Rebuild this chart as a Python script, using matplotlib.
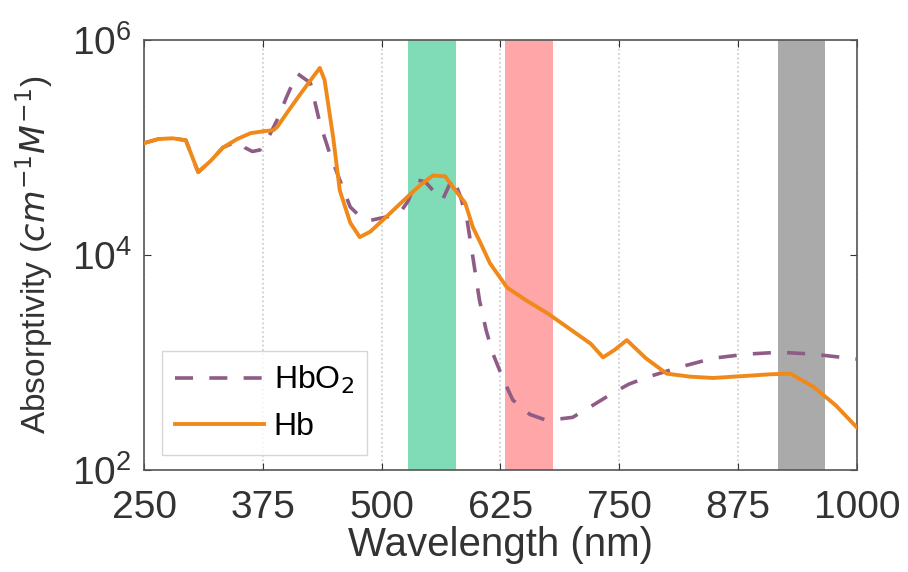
import matplotlib.pyplot as plt

# wavelength (nm) and molar absorptivity (cm^-1 M^-1)
wl_hb = [250, 265, 280, 294, 307, 320, 333, 348, 362, 376, 386, 390, 402, 414, 425,
         435, 440, 449, 456, 467, 477, 488, 498, 512, 527, 541, 554, 567, 575, 588,
         596, 604, 614, 632, 652, 674, 700, 720, 733, 745, 758, 778, 800, 825, 849,
         880, 910, 930, 954, 978, 1000]
hb = [1.1e5, 1.2e5, 1.22e5, 1.17e5, 5.9e4, 7.5e4, 1.0e5, 1.2e5, 1.36e5, 1.42e5, 1.45e5,
      1.55e5, 2.2e5, 3.1e5, 4.2e5, 5.5e5, 4.25e5, 1.25e5, 4.0e4, 2.0e4, 1.47e4, 1.65e4,
      1.99e4, 2.6e4, 3.47e4, 4.5e4, 5.5e4, 5.4e4, 4.3e4, 3.05e4, 1.82e4, 1.3e4, 8.4e3,
      5.0e3, 3.8e3, 2.9e3, 2.0e3, 1.5e3, 1.12e3, 1.31e3, 1.62e3, 1.1e3, 7.9e2, 7.4e2,
      7.2e2, 7.5e2, 7.8e2, 7.9e2, 6.0e2, 4.0e2, 2.5e2]

wl_hbo2 = [250, 265, 280, 294, 307, 320, 333, 348, 356, 364, 372, 380, 390, 400, 411,
           425, 435, 446, 456, 467, 477, 488, 498, 509, 519, 528, 537, 546, 554, 564,
           575, 583, 590, 596, 603, 610, 617, 628, 638, 656, 674, 701, 722, 743, 760,
           779, 814, 849, 884, 919, 954, 1000]
hbo2 = [1.1e5, 1.2e5, 1.22e5, 1.17e5, 5.9e4, 7.5e4, 1.0e5, 1.15e5, 1.0e5, 9.2e4, 9.5e4,
        1.2e5, 1.8e5, 2.95e5, 4.9e5, 4.0e5, 1.7e5, 8.5e4, 5.0e4, 2.8e4, 2.3e4, 2.1e4,
        2.2e4, 2.3e4, 2.45e4, 3.2e4, 5.0e4, 4.8e4, 4.0e4, 3.25e4, 5.3e4, 3.5e4, 2.1e4,
        9.6e3, 3.8e3, 2.0e3, 1.22e3, 7.0e2, 4.5e2, 3.3e2, 2.9e2, 3.1e2, 4.0e2, 5.2e2,
        6.3e2, 7.3e2, 9.1e2, 1.1e3, 1.2e3, 1.25e3, 1.2e3, 1.08e3]

bands = [(528, 578, '#7fdcb6'), (630, 680, '#ffa6a8'), (917, 967, '#aaaaaa')]
xticks = [250, 375, 500, 625, 750, 875, 1000]

plt.rcParams['font.family'] = ['Liberation Sans', 'DejaVu Sans']
plt.rcParams['mathtext.fontset'] = 'dejavusans'

fig = plt.figure(figsize=(9.08, 5.72), dpi=100)
ax = fig.add_axes([0.1586, 0.178, 0.785, 0.752])

for lo, hi, c in bands:
    ax.axvspan(lo, hi, color=c, lw=0, zorder=1)

ax.plot(wl_hbo2, hbo2, color='#8e5c86', lw=2.6, ls=(0, (5, 4.5)), label='HbO$_2$', zorder=3)
ax.plot(wl_hb, hb, color='#f0891a', lw=2.8, label='Hb', zorder=4)

ax.set_yscale('log')
ax.set_xlim(250, 1000)
ax.set_ylim(1e2, 1e6)
ax.set_xticks(xticks)
ax.set_yticks([1e2, 1e4, 1e6])
ax.minorticks_off()
ax.grid(axis='x', ls=':', color='#c8c8c8', lw=1.2, zorder=0)
ax.set_axisbelow(True)

ax.tick_params(direction='in', top=True, right=True, labelsize=28, colors='#333333',
               length=5)
ax.tick_params(axis='x', pad=14)
ax.tick_params(axis='y', pad=9)
for s in ax.spines.values():
    s.set_color('#555555')
    s.set_linewidth(1.2)

ax.set_xlabel('Wavelength (nm)', fontsize=29, color='#333333', labelpad=0)
ax.set_ylabel('Absorptivity ($cm^{-1}M^{-1}$)', fontsize=24, color='#333333', labelpad=12)

leg = ax.legend(loc='lower left', bbox_to_anchor=(0.025, 0.035), borderaxespad=0,
                fontsize=23, handlelength=2.8, frameon=True, fancybox=False,
                borderpad=0.4, labelspacing=0.5, handletextpad=0.3)
leg.get_frame().set_edgecolor('#cccccc')
leg.get_frame().set_linewidth(1.0)

fig.savefig('out.png', dpi=100)
